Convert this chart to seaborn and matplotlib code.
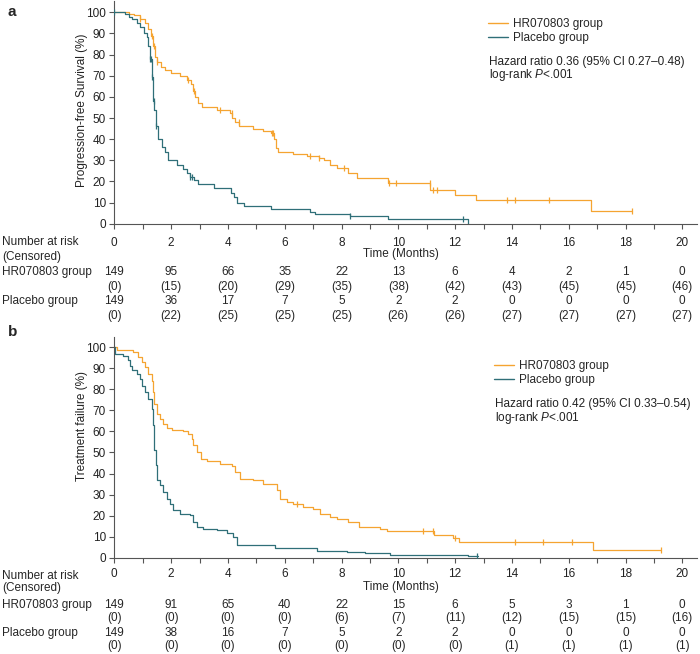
import numpy as np
import pandas as pd
import matplotlib.pyplot as plt
from matplotlib.lines import Line2D
from matplotlib.transforms import blended_transform_factory
import seaborn as sns

# --- data ---
# a: progression-free survival
pfs_hr_t = [0, 0.5, 0.7, 0.9, 1.08, 1.2, 1.28, 1.36, 1.42, 1.5, 1.65, 1.8, 2.0, 2.3, 2.55, 2.7,
            2.78, 2.85, 2.95, 3.1, 3.6, 4.08, 4.15, 4.25, 4.4, 4.9, 5.25, 5.5, 5.62, 5.7, 5.78,
            6.3, 6.8, 7.2, 7.4, 7.61, 7.85, 8.24, 8.54, 9.65, 11.12, 12.0, 12.74, 16.79, 18.24]
pfs_hr_s = [100, 99.3, 98.5, 97, 95, 92, 89, 84, 79, 76.5, 74, 72.5, 71.5, 70, 68, 66,
            63, 60, 57, 55, 54, 52.5, 50, 48, 46, 45, 44, 43, 40, 36, 34,
            33, 32, 31, 30, 28, 26.5, 24.1, 21.8, 19.4, 16, 13.7, 11.4, 5.8, 5.8]
pfs_hr_cens = [0.9, 1.32, 1.4, 1.5, 2.6, 2.79, 3.73, 4.14, 4.38, 5.55, 5.6, 6.9, 7.2, 8.08,
               9.69, 9.92, 11.1, 11.22, 11.35, 13.82, 14.11, 15.29, 18.24]

pfs_pl_t = [0, 0.38, 0.5, 0.61, 0.79, 0.9, 1.05, 1.14, 1.2, 1.26, 1.32, 1.36, 1.38, 1.41, 1.46,
            1.55, 1.67, 1.8, 1.88, 2.2, 2.43, 2.55, 2.67, 2.8, 2.93, 3.5, 4.1, 4.2, 4.32, 4.55,
            5.5, 6.9, 7.08, 8.3, 9.65, 12.47]
pfs_pl_s = [100, 99, 98, 97, 95, 93, 90, 88.5, 84, 78, 69.5, 62, 58, 54, 46,
            40, 36.5, 34, 30, 28, 26, 24, 22, 20.5, 19, 17, 14.5, 12.5, 10, 8.5,
            6.8, 5.7, 4.8, 3.6, 2.4, 0]
pfs_pl_cens = [0, 1.26, 1.3, 1.34, 1.4, 1.46, 2.67, 2.73, 8.3, 12.29]

# b: treatment failure
tf_hr_t = [0, 0.08, 0.67, 0.85, 0.96, 1.08, 1.2, 1.31, 1.37, 1.41, 1.49, 1.6, 1.73, 1.84, 2.02,
           2.43, 2.6, 2.72, 2.78, 2.9, 3.07, 3.25, 3.72, 4.13, 4.25, 4.42, 4.9, 5.25, 5.72, 5.83,
           6.07, 6.3, 6.65, 7.0, 7.24, 7.59, 7.83, 8.24, 8.6, 9.36, 9.59, 11.24, 11.94, 12.12,
           16.87, 19.25]
tf_hr_s = [100, 98.9, 97.6, 95.5, 93, 90.5, 87.4, 84, 78.7, 73, 68.4, 66, 63.7, 61.6, 60.5,
           60, 59, 56.6, 53.4, 50.2, 47, 45.8, 44.7, 43.6, 40.8, 37.6, 36.8, 35.2, 32, 28,
           26.5, 25.4, 24.2, 23, 21, 19.4, 18.6, 17, 14.7, 13.6, 12.8, 10.7, 9.2, 7.3,
           3.6, 3.6]
tf_hr_cens = [6.45, 10.88, 11.22, 11.98, 14.11, 15.11, 16.13, 19.25]

tf_pl_t = [0, 0.02, 0.32, 0.49, 0.55, 0.61, 0.79, 0.9, 0.96, 1.08, 1.2, 1.31, 1.37, 1.41, 1.46,
           1.49, 1.6, 1.73, 1.84, 1.96, 2.08, 2.31, 2.66, 2.78, 2.9, 3.13, 3.6, 3.96, 4.19, 4.31,
           5.66, 7.12, 8.18, 8.83, 9.71, 12.47, 12.8]
tf_pl_s = [100, 96.8, 96, 93.7, 91.3, 89, 87.4, 85, 81.8, 78.7, 75.5, 70.8, 62.9, 51, 43.9,
           36.8, 34.4, 31.3, 28.1, 25.7, 22.6, 21, 20.2, 17.1, 14.7, 13.6, 13.1, 11.5, 10, 6,
           4.7, 3.3, 2.8, 2.1, 1.3, 0.7, 0.7]
tf_pl_cens = [12.76]

# number at risk tables
risk_times = [0, 2, 4, 6, 8, 10, 12, 14, 16, 18, 20]
pfs_hr_risk = [149, 95, 66, 35, 22, 13, 6, 4, 2, 1, 0]
pfs_hr_cens_n = [0, 15, 20, 29, 35, 38, 42, 43, 45, 45, 46]
pfs_pl_risk = [149, 36, 17, 7, 5, 2, 2, 0, 0, 0, 0]
pfs_pl_cens_n = [0, 22, 25, 25, 25, 26, 26, 27, 27, 27, 27]
tf_hr_risk = [149, 91, 65, 40, 22, 15, 6, 5, 3, 1, 0]
tf_hr_cens_n = [0, 0, 0, 0, 6, 7, 11, 12, 15, 15, 16]
tf_pl_risk = [149, 38, 16, 7, 5, 2, 2, 0, 0, 0, 0]
tf_pl_cens_n = [0, 0, 0, 0, 0, 0, 0, 1, 1, 1, 1]

groups = ["HR070803 group", "Placebo group"]
c_hr = "#F5A431"
c_pl = "#2F6F78"

sns.set_theme(style="ticks")
plt.rcParams["font.family"] = ["Liberation Sans", "DejaVu Sans"]
plt.rcParams["mathtext.fontset"] = "custom"
plt.rcParams["mathtext.rm"] = "Liberation Sans"
plt.rcParams["mathtext.it"] = "Liberation Sans:italic"
FS = 8.5

W, H = 700, 654
fig = plt.figure(figsize=(7, 6.54), dpi=100)


def fy(py):
    return 1 - py / H


def step_val(t, s, x):
    i = np.searchsorted(t, x, side="right") - 1
    return np.asarray(s)[i]


def km_panel(ax, curves, ylabel, ylab_y, tick_pad):
    for t, s, cens, col in curves:
        df = pd.DataFrame({"t": t, "s": s})
        sns.lineplot(data=df, x="t", y="s", ax=ax, color=col, lw=0.9,
                     drawstyle="steps-post", estimator=None, sort=False)
        cdf = pd.DataFrame({"t": cens, "s": step_val(t, s, cens)})
        sns.scatterplot(data=cdf, x="t", y="s", ax=ax, color=col, marker="|",
                        s=18, linewidth=0.9, zorder=3)
    ax.set_xlim(0, 20.5)
    ax.set_xticks(range(0, 21, 2))
    ax.set_xticks(range(1, 21, 2), minor=True)
    ax.set_yticks(range(0, 101, 10))
    ax.tick_params(axis="both", which="both", labelsize=FS, color="#555555",
                   length=3.5, width=0.8, labelcolor="#222222")
    ax.tick_params(axis="x", which="both", pad=tick_pad)
    ax.tick_params(axis="y", pad=2.5)
    for sp in ["top", "right"]:
        ax.spines[sp].set_visible(False)
    for sp in ["left", "bottom"]:
        ax.spines[sp].set_color("#555555")
        ax.spines[sp].set_linewidth(0.8)
    ax.set_xlabel("")
    ax.set_ylabel(ylabel, fontsize=FS, color="#222222")
    ax.yaxis.set_label_coords(-0.046, ylab_y)


def legend_block(ax, top_py, left_px, txt_py, hr_txt):
    handles = [Line2D([], [], color=c_hr, lw=1.0), Line2D([], [], color=c_pl, lw=1.0)]
    ax.legend(handles, groups, loc="upper left", frameon=False, fontsize=FS,
              bbox_to_anchor=(left_px / W, fy(top_py)), bbox_transform=fig.transFigure,
              borderaxespad=0, borderpad=0, handlelength=1.7, handletextpad=0.4,
              labelspacing=0.2)
    fig.text((left_px + 1) / W, fy(txt_py), hr_txt, fontsize=FS, va="center", color="#222222")
    fig.text((left_px + 1) / W, fy(txt_py + 13.5), "log-rank $\\mathit{P}$<.001",
             fontsize=FS, va="center", color="#222222")


def risk_table(ax, rows_py, time_py, hr_n, hr_c, pl_n, pl_c):
    tr = blended_transform_factory(ax.transData, fig.transFigure)
    fig.text(2 / W, fy(rows_py[0]), "Number at risk", fontsize=FS, va="center")
    fig.text(2 / W, fy(rows_py[1]), "(Censored)", fontsize=FS, va="center")
    fig.text(2 / W, fy(rows_py[2]), groups[0], fontsize=FS, va="center")
    fig.text(2 / W, fy(rows_py[4]), groups[1], fontsize=FS, va="center")
    ax.text(10.1, fy(time_py), "Time (Months)", transform=tr, fontsize=FS,
            ha="center", va="center")
    for i, x in enumerate(risk_times):
        for r, v in zip(rows_py[2:], [hr_n[i], f"({hr_c[i]})", pl_n[i], f"({pl_c[i]})"]):
            ax.text(x, fy(r), str(v), transform=tr, fontsize=FS, ha="center", va="center",
                    clip_on=False)


# panel a
ax_a = fig.add_axes([114.3 / W, fy(223.7), (696.5 - 114.3) / W, 223.0 / H])
km_panel(ax_a, [(pfs_hr_t, pfs_hr_s, pfs_hr_cens, c_hr), (pfs_pl_t, pfs_pl_s, pfs_pl_cens, c_pl)],
         "Progression-free Survival (%)", 0.51, 6.0)
ax_a.set_ylim(0, 105.5)
legend_block(ax_a, 18, 488, 61.7, "Hazard ratio 0.36 (95% CI 0.27\u20130.48)")
risk_table(ax_a, [242, 257, 272, 287, 301, 316], 253.5,
           pfs_hr_risk, pfs_hr_cens_n, pfs_pl_risk, pfs_pl_cens_n)
fig.text(8 / W, fy(12), "a", fontsize=11, fontweight="bold", va="center")

# panel b
ax_b = fig.add_axes([114.3 / W, fy(557.7), (696.5 - 114.3) / W, 221.0 / H])
km_panel(ax_b, [(tf_hr_t, tf_hr_s, tf_hr_cens, c_hr), (tf_pl_t, tf_pl_s, tf_pl_cens, c_pl)],
         "Treatment failure (%)", 0.594, 4.0)
ax_b.set_ylim(0, 105)
legend_block(ax_b, 360, 494, 404, "Hazard ratio 0.42 (95% CI 0.33\u20130.54)")
risk_table(ax_b, [576, 588, 605, 618, 633, 646], 587,
           tf_hr_risk, tf_hr_cens_n, tf_pl_risk, tf_pl_cens_n)
fig.text(8 / W, fy(332), "b", fontsize=11, fontweight="bold", va="center")

fig.savefig("out.png", dpi=100)
